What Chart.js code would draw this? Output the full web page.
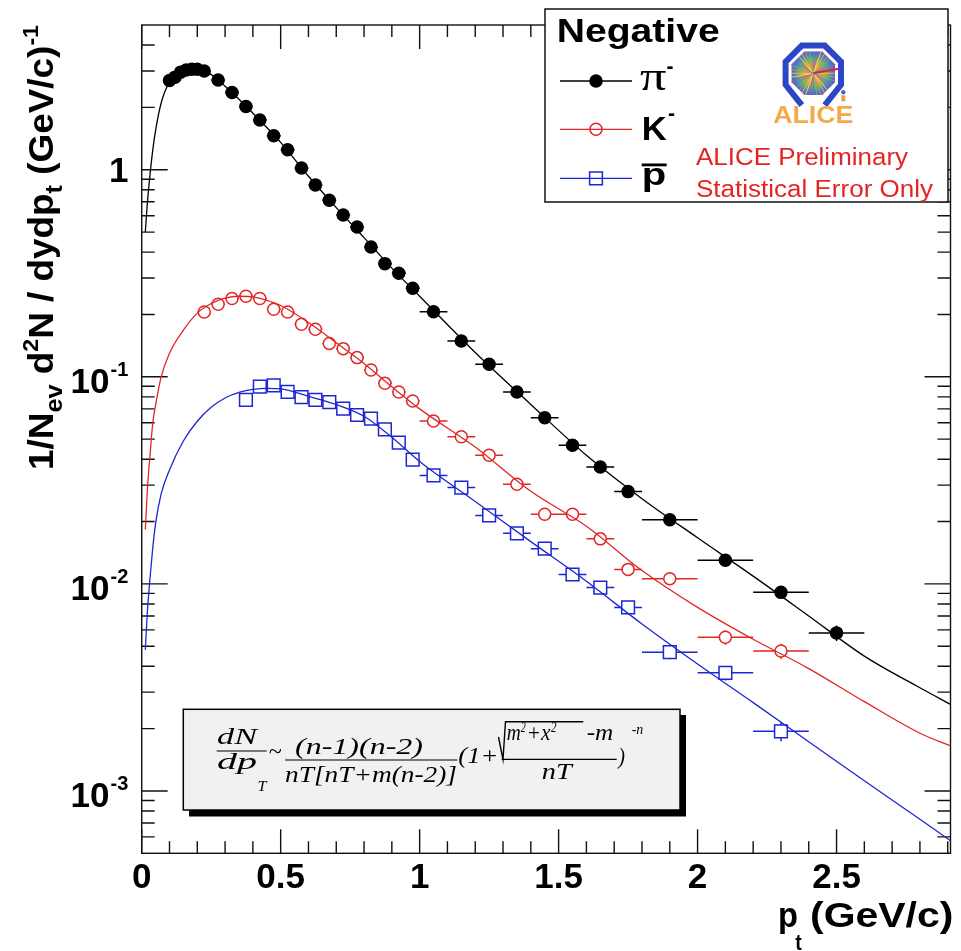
<!DOCTYPE html>
<html>
<head>
<meta charset="utf-8">
<script src="https://cdn.jsdelivr.net/npm/chart.js@4.4.1/dist/chart.umd.min.js"></script>
<style>
  html, body { margin: 0; padding: 0; background: #fff; }
  canvas { display: block; }
</style>
</head>
<body>
<canvas id="spectra" width="961" height="951"></canvas>
<script>
// pi- spectrum
const pionPt = [0.10, 0.12, 0.14, 0.16, 0.18, 0.20, 0.225,
  0.275, 0.325, 0.375, 0.425, 0.475, 0.525, 0.575, 0.625, 0.675, 0.725, 0.775, 0.825, 0.875, 0.925, 0.975,
  1.05, 1.15, 1.25, 1.35, 1.45, 1.55, 1.65, 1.75,
  1.9, 2.1, 2.3, 2.5];
const pionYield = [2.70, 2.80, 2.96, 3.03, 3.06, 3.06, 3.00,
  2.71, 2.36, 2.02, 1.74, 1.46, 1.25, 1.02, 0.845, 0.712, 0.605, 0.529, 0.424, 0.352, 0.316, 0.268,
  0.206, 0.149, 0.115, 0.0845, 0.0635, 0.0467, 0.0367, 0.0279,
  0.0204, 0.0130, 0.0091, 0.0058];
const pionPtErr = [0.01, 0.01, 0.01, 0.01, 0.01, 0.01, 0.0125,
  0.025, 0.025, 0.025, 0.025, 0.025, 0.025, 0.025, 0.025, 0.025, 0.025, 0.025, 0.025, 0.025, 0.025, 0.025,
  0.05, 0.05, 0.05, 0.05, 0.05, 0.05, 0.05, 0.05,
  0.1, 0.1, 0.1, 0.1];
const pionYieldErr = [0.03, 0.03, 0.03, 0.03, 0.03, 0.03, 0.03,
  0.025, 0.022, 0.019, 0.016, 0.014, 0.012, 0.010, 0.009, 0.008, 0.007, 0.006, 0.005, 0.0045, 0.004, 0.0036,
  0.003, 0.0024, 0.0019, 0.0015, 0.0012, 0.001, 0.0008, 0.0007,
  0.0008, 0.0007, 0.0006, 0.0005];

// K- spectrum
const kaonPt = [0.225, 0.275, 0.325, 0.375, 0.425, 0.475, 0.525, 0.575, 0.625, 0.675, 0.725, 0.775, 0.825, 0.875, 0.925, 0.975,
  1.05, 1.15, 1.25, 1.35, 1.45, 1.55, 1.65, 1.75,
  1.9, 2.1, 2.3];
const kaonYield = [0.2056, 0.224, 0.2387, 0.2448, 0.2387, 0.212, 0.2056, 0.1794, 0.1697, 0.145, 0.1368, 0.1238, 0.1078, 0.093, 0.0845, 0.0764,
  0.0612, 0.0514, 0.0418, 0.0303, 0.0217, 0.0217, 0.0165, 0.01175,
  0.0106, 0.00553, 0.00474];
const kaonPtErr = [0.025, 0.025, 0.025, 0.025, 0.025, 0.025, 0.025, 0.025, 0.025, 0.025, 0.025, 0.025, 0.025, 0.025, 0.025, 0.025,
  0.05, 0.05, 0.05, 0.05, 0.05, 0.05, 0.05, 0.05,
  0.1, 0.1, 0.1];
const kaonYieldErr = [0.006, 0.006, 0.006, 0.006, 0.006, 0.005, 0.005, 0.004, 0.004, 0.004, 0.003, 0.003, 0.003, 0.0025, 0.0022, 0.002,
  0.0018, 0.0015, 0.0013, 0.001, 0.0009, 0.0009, 0.0008, 0.0007,
  0.0007, 0.00045, 0.0004];

// anti-proton spectrum
const protonPt = [0.375, 0.425, 0.475, 0.525, 0.575, 0.625, 0.675, 0.725, 0.775, 0.825, 0.875, 0.925, 0.975,
  1.05, 1.15, 1.25, 1.35, 1.45, 1.55, 1.65, 1.75,
  1.9, 2.1, 2.3];
const protonYield = [0.0773, 0.0897, 0.0910, 0.0845, 0.0798, 0.0773, 0.0755, 0.0702, 0.0654, 0.0628, 0.0558, 0.0481, 0.0398,
  0.0334, 0.0292, 0.0214, 0.01754, 0.0148, 0.0111, 0.0096, 0.0077,
  0.00468, 0.00372, 0.00194];
const protonPtErr = [0.025, 0.025, 0.025, 0.025, 0.025, 0.025, 0.025, 0.025, 0.025, 0.025, 0.025, 0.025, 0.025,
  0.05, 0.05, 0.05, 0.05, 0.05, 0.05, 0.05, 0.05,
  0.1, 0.1, 0.1];
const protonYieldErr = [0.003, 0.003, 0.003, 0.003, 0.0025, 0.0025, 0.0025, 0.002, 0.002, 0.002, 0.0018, 0.0016, 0.0014,
  0.0012, 0.001, 0.0008, 0.0007, 0.0006, 0.0005, 0.0005, 0.0004,
  0.00035, 0.0003, 0.0002];

// fitted curves (Tsallis-type), sampled along pt
const fitPt = [0.013, 0.02, 0.03, 0.04, 0.05, 0.07, 0.1, 0.15, 0.2, 0.25, 0.3, 0.35, 0.4, 0.45, 0.5,
  0.6, 0.7, 0.8, 0.9, 1.0, 1.2, 1.4, 1.6, 1.8, 2.0, 2.2, 2.4, 2.6, 2.8, 2.91];
const pionFit = [0.50, 0.68, 0.95, 1.25, 1.55, 2.10, 2.65, 2.98, 3.05, 2.88, 2.53, 2.19, 1.875, 1.6, 1.355,
  0.93, 0.656, 0.47, 0.335, 0.245, 0.131, 0.0735, 0.0418, 0.0258, 0.0167, 0.0109, 0.0070, 0.00448, 0.00315, 0.00262];
const kaonFit = [0.0183, 0.028, 0.042, 0.060, 0.073, 0.100, 0.130, 0.168, 0.203, 0.226, 0.240, 0.245, 0.243, 0.234, 0.221,
  0.183, 0.146, 0.116, 0.0895, 0.070, 0.0458, 0.028, 0.019, 0.0116, 0.0077, 0.0054, 0.0039, 0.0027, 0.0019, 0.00165];
const protonFit = [0.0048, 0.0072, 0.0107, 0.0150, 0.0196, 0.0272, 0.0355, 0.049, 0.061, 0.0712, 0.079, 0.084, 0.087, 0.088, 0.0875,
  0.0805, 0.0735, 0.0645, 0.051, 0.039, 0.025, 0.016, 0.0103, 0.0064, 0.0041, 0.00267, 0.00173, 0.00112, 0.00073, 0.000575];

// axis labels
const yTickValues = [1, 1e-1, 1e-2, 1e-3];
const yTickExponents = ['', '-1', '-2', '-3'];

const BLACK = '#000';
const RED = 'rgb(226,38,38)';
const BLUE = 'rgb(28,38,210)';
const SANS = '"Liberation Sans", Arial, sans-serif';
const SERIF = '"Liberation Serif", "Times New Roman", serif';

function toPoints(xs, ys) {
  return xs.map((x, i) => ({ x: x, y: ys[i] }));
}

// draws text squeezed/stretched to a given width, left aligned
function fitText(ctx, text, x, y, width, font, color) {
  ctx.save();
  ctx.font = font;
  ctx.fillStyle = color || '#000';
  ctx.textAlign = 'left';
  ctx.textBaseline = 'alphabetic';
  const w = ctx.measureText(text).width;
  ctx.translate(x, y);
  ctx.scale(width / w, 1);
  ctx.fillText(text, 0, 0);
  ctx.restore();
}

function hline(ctx, x0, x1, y, lw) {
  ctx.save();
  ctx.strokeStyle = '#000';
  ctx.lineWidth = lw || 1.2;
  ctx.beginPath();
  ctx.moveTo(x0, y);
  ctx.lineTo(x1, y);
  ctx.stroke();
  ctx.restore();
}

// frame with inward ticks on all four sides
const frameTicks = {
  id: 'frameTicks',
  beforeDatasetsDraw(chart) {
    const { ctx, chartArea: a, scales: { x, y } } = chart;
    ctx.save();
    ctx.strokeStyle = '#111';
    ctx.lineWidth = 1.4;
    ctx.strokeRect(a.left, a.top, a.right - a.left, a.bottom - a.top);
    ctx.beginPath();
    for (let i = 0; i <= 29; i++) {
      const v = i / 10;
      if (v > x.max) break;
      const px = x.getPixelForValue(v);
      const len = i % 5 === 0 ? 24 : 12;
      ctx.moveTo(px, a.bottom); ctx.lineTo(px, a.bottom - len);
      ctx.moveTo(px, a.top); ctx.lineTo(px, a.top + len);
    }
    for (let e = -4; e <= 0; e++) {
      for (let m = 1; m <= 9; m++) {
        const v = m * Math.pow(10, e);
        if (v < y.min * 1.0001 || v > y.max * 0.9999) continue;
        const py = y.getPixelForValue(v);
        const len = m === 1 ? 26 : 13;
        ctx.moveTo(a.left, py); ctx.lineTo(a.left + len, py);
        ctx.moveTo(a.right, py); ctx.lineTo(a.right - len, py);
      }
    }
    ctx.stroke();
    ctx.restore();
  }
};

// horizontal bin-width bars and vertical statistical bars, kept clear of the marker
const errorBars = {
  id: 'errorBars',
  afterDatasetsDraw(chart) {
    const { ctx, chartArea: a, scales: { x, y } } = chart;
    ctx.save();
    ctx.beginPath();
    ctx.rect(a.left, a.top, a.right - a.left, a.bottom - a.top);
    ctx.clip();
    chart.data.datasets.forEach(ds => {
      if (!ds.xErr) return;
      const gap = ds.barGap;
      ctx.strokeStyle = ds.pointBorderColor;
      ctx.lineWidth = 1.5;
      ctx.beginPath();
      ds.data.forEach((p, i) => {
        const px = x.getPixelForValue(p.x);
        const py = y.getPixelForValue(p.y);
        const x0 = x.getPixelForValue(p.x - ds.xErr[i]);
        const x1 = x.getPixelForValue(p.x + ds.xErr[i]);
        const y0 = y.getPixelForValue(p.y - ds.yErr[i]);
        const y1 = y.getPixelForValue(p.y + ds.yErr[i]);
        if (px - x0 > gap) {
          ctx.moveTo(x0, py); ctx.lineTo(px - gap, py);
          ctx.moveTo(px + gap, py); ctx.lineTo(x1, py);
        }
        if (y0 - py > gap) { ctx.moveTo(px, y0); ctx.lineTo(px, py + gap); }
        if (py - y1 > gap) { ctx.moveTo(px, y1); ctx.lineTo(px, py - gap); }
      });
      ctx.stroke();
    });
    ctx.restore();
  }
};

function drawAliceLogo(ctx, cx, cy) {
  const oct = (r) => {
    const pts = [];
    for (let k = 0; k < 8; k++) {
      const t = (22.5 + 45 * k) * Math.PI / 180;
      pts.push([cx + r * Math.cos(t), cy + r * Math.sin(t)]);
    }
    return pts;
  };
  ctx.save();
  // magnet yoke, open at the bottom
  const outer = oct(30);
  ctx.strokeStyle = 'rgb(45,70,200)';
  ctx.lineWidth = 6;
  ctx.lineJoin = 'miter';
  ctx.beginPath();
  ctx.moveTo(outer[2][0], outer[2][1] + 4);
  for (let k = 3; k < 8; k++) ctx.lineTo(outer[k][0], outer[k][1]);
  ctx.lineTo(outer[0][0], outer[0][1]);
  ctx.lineTo(outer[1][0], outer[1][1] + 4);
  ctx.stroke();
  // detector body
  const inner = oct(23.5);
  ctx.beginPath();
  inner.forEach((p, k) => k ? ctx.lineTo(p[0], p[1]) : ctx.moveTo(p[0], p[1]));
  ctx.closePath();
  const g = ctx.createRadialGradient(cx, cy, 1, cx, cy, 24);
  g.addColorStop(0, '#ffd040');
  g.addColorStop(0.25, '#f59a30');
  g.addColorStop(0.55, '#70b070');
  g.addColorStop(0.8, '#4a78c8');
  g.addColorStop(1, '#8050a8');
  ctx.fillStyle = g;
  ctx.fill();
  ctx.save();
  ctx.clip();
  const rays = ['#ffcc33', '#ff8844', '#55cc66', '#3388dd', '#cc44aa', '#ffee55'];
  ctx.lineWidth = 0.8;
  for (let k = 0; k < 36; k++) {
    const t = k * Math.PI / 18;
    ctx.strokeStyle = rays[k % rays.length];
    ctx.beginPath();
    ctx.moveTo(cx, cy);
    ctx.lineTo(cx + 26 * Math.cos(t), cy + 26 * Math.sin(t));
    ctx.stroke();
  }
  ctx.restore();
  ctx.strokeStyle = '#c8284a';
  ctx.lineWidth = 2;
  ctx.stroke();
  // little figure at the side
  ctx.fillStyle = '#3a6ad0';
  ctx.beginPath(); ctx.arc(cx + 30, cy + 19, 2.2, 0, Math.PI * 2); ctx.fill();
  ctx.fillStyle = '#f0a040';
  ctx.fillRect(cx + 28, cy + 22, 4, 6);
  ctx.restore();
  fitText(ctx, 'ALICE', cx - 40, cy + 50, 80, 'bold 24px ' + SANS, '#f4aa4c');
}

function drawLegend(ctx, chart) {
  ctx.save();
  ctx.fillStyle = '#fff';
  ctx.fillRect(545, 9, 403, 193);
  ctx.strokeStyle = '#111';
  ctx.lineWidth = 1.5;
  ctx.strokeRect(545, 9, 403, 193);
  ctx.restore();
  fitText(ctx, 'Negative', 556.7, 41.7, 163, 'bold 33px ' + SANS);

  const rowY = [81, 129.3, 178.3];
  chart.data.datasets.filter(ds => ds.xErr).forEach((ds, i) => {
    ctx.save();
    ctx.strokeStyle = ds.pointBorderColor;
    ctx.lineWidth = 1.3;
    ctx.beginPath();
    ctx.moveTo(560, rowY[i]);
    ctx.lineTo(632, rowY[i]);
    ctx.stroke();
    ctx.fillStyle = ds.pointBackgroundColor;
    ctx.lineWidth = ds.pointBorderWidth;
    Chart.helpers.drawPoint(ctx, { pointStyle: ds.pointStyle, radius: ds.pointRadius, borderWidth: ds.pointBorderWidth, rotation: 0 }, 596, rowY[i]);
    ctx.restore();
  });
  fitText(ctx, 'π', 640, 90, 26.5, '40px ' + SERIF);
  fitText(ctx, '-', 666.5, 73, 7, 'bold 22px ' + SANS);
  fitText(ctx, 'K', 641.7, 140, 25, 'bold 33px ' + SANS);
  fitText(ctx, '-', 668, 120, 7, 'bold 22px ' + SANS);
  fitText(ctx, 'p', 641.7, 185, 24.5, 'bold 32px ' + SANS);
  ctx.fillStyle = '#000';
  ctx.fillRect(641.7, 163.5, 25, 2.8);

  drawAliceLogo(ctx, 813.3, 73.3);
  fitText(ctx, 'ALICE Preliminary', 696, 165, 212, '23px ' + SANS, 'rgb(228,36,36)');
  fitText(ctx, 'Statistical Error Only', 696, 196.7, 237, '23px ' + SANS, 'rgb(228,36,36)');
}

function drawFormula(ctx) {
  ctx.save();
  ctx.fillStyle = '#000';
  ctx.fillRect(189, 715, 497, 101.5);
  ctx.fillStyle = '#f1f1f1';
  ctx.fillRect(183.3, 709.3, 496.7, 100.7);
  ctx.strokeStyle = '#000';
  ctx.lineWidth = 1.5;
  ctx.strokeRect(183.3, 709.3, 496.7, 100.7);
  ctx.restore();
  const f = 'italic 23px ' + SERIF;
  const fs = 'italic 15px ' + SERIF;
  fitText(ctx, 'dN', 217, 744, 40, f);
  hline(ctx, 216.7, 266.7, 751);
  fitText(ctx, 'dp', 217, 769, 40, f);
  fitText(ctx, 'T', 257.5, 791, 9, fs);
  fitText(ctx, '~', 268.5, 759, 13, f);
  fitText(ctx, '(n-1)(n-2)', 295, 754, 128, f);
  hline(ctx, 285, 457.3, 760);
  fitText(ctx, 'nT[nT+m(n-2)]', 285, 782, 172, f);
  fitText(ctx, '(1+', 458.3, 763, 40, f);
  ctx.save();
  ctx.strokeStyle = '#000';
  ctx.lineWidth = 1.4;
  ctx.beginPath();
  ctx.moveTo(498.5, 737);
  ctx.lineTo(503, 759.5);
  ctx.lineTo(505.5, 721.7);
  ctx.lineTo(583.3, 721.7);
  ctx.stroke();
  ctx.restore();
  fitText(ctx, 'm', 506.7, 740, 14, f);
  fitText(ctx, '2', 520.8, 732, 5, fs);
  fitText(ctx, '+x', 526.5, 740, 24, f);
  fitText(ctx, '2', 551, 732, 5.5, fs);
  fitText(ctx, '-m', 586.7, 740, 26.6, f);
  hline(ctx, 501.7, 616.7, 759.3);
  fitText(ctx, 'nT', 541.7, 779, 30, f);
  fitText(ctx, ')', 618.3, 764, 6.7, f);
  fitText(ctx, '-n', 631.7, 734, 11.6, fs);
}

function drawAxisText(ctx, chart) {
  const y = chart.scales.y;
  const big = 'bold 35px ' + SANS;
  const sup = 'bold 20px ' + SANS;
  ctx.save();
  ctx.fillStyle = '#000';
  yTickValues.forEach((v, i) => {
    const py = y.getPixelForValue(v);
    if (!yTickExponents[i]) {
      ctx.font = big;
      ctx.textAlign = 'right';
      ctx.fillText('1', 128.5, py + 12.5);
    } else {
      ctx.font = big;
      ctx.textAlign = 'right';
      ctx.fillText('10', 109.5, py + 16.5);
      ctx.font = sup;
      ctx.textAlign = 'left';
      ctx.fillText(yTickExponents[i], 110.5, py - 1);
    }
  });
  ctx.restore();

  // x title
  fitText(ctx, 'p', 778, 927, 20, big);
  fitText(ctx, 't', 795.3, 950, 6.5, 'bold 22px ' + SANS);
  fitText(ctx, '(GeV/c)', 810, 927, 143.3, big);

  // y title, rotated, reading upwards
  const segs = [
    ['1/N', big, 0], ['ev', 'bold 24px ' + SANS, 9], [' d', big, 0], ['2', 'bold 22px ' + SANS, -15],
    ['N / dydp', big, 0], ['t', 'bold 24px ' + SANS, 9], [' (GeV/c)', big, 0], ['-1', 'bold 22px ' + SANS, -15]
  ];
  ctx.save();
  let total = 0;
  segs.forEach(s => { ctx.font = s[1]; total += ctx.measureText(s[0]).width; });
  const k = 445 / total;
  ctx.translate(53, 470);
  ctx.rotate(-Math.PI / 2);
  ctx.scale(k, 1);
  ctx.fillStyle = '#000';
  ctx.textBaseline = 'alphabetic';
  let pos = 0;
  segs.forEach(s => {
    ctx.font = s[1];
    ctx.fillText(s[0], pos, s[2]);
    pos += ctx.measureText(s[0]).width;
  });
  ctx.restore();
}

const decorations = {
  id: 'decorations',
  afterDraw(chart) {
    const ctx = chart.ctx;
    drawAxisText(ctx, chart);
    drawFormula(ctx);
    drawLegend(ctx, chart);
  }
};

const markerSet = (label, xs, ys, xe, ye, style, radius, fillColor, color, gap) => ({
  type: 'scatter',
  label: label,
  data: toPoints(xs, ys),
  xErr: xe,
  yErr: ye,
  barGap: gap,
  pointStyle: style,
  pointRadius: radius,
  pointHoverRadius: radius,
  pointBackgroundColor: fillColor,
  pointBorderColor: color,
  pointBorderWidth: 1.5,
  showLine: false,
  order: 0
});

const fitSet = (label, ys, color) => ({
  type: 'line',
  label: label,
  data: toPoints(fitPt, ys),
  borderColor: color,
  borderWidth: 1.3,
  pointRadius: 0,
  fill: false,
  cubicInterpolationMode: 'monotone',
  order: 1
});

new Chart(document.getElementById('spectra'), {
  type: 'scatter',
  data: {
    datasets: [
      markerSet('π-', pionPt, pionYield, pionPtErr, pionYieldErr, 'circle', 6, BLACK, BLACK, 6),
      markerSet('K-', kaonPt, kaonYield, kaonPtErr, kaonYieldErr, 'circle', 6, 'rgba(0,0,0,0)', RED, 6),
      markerSet('anti-p', protonPt, protonYield, protonPtErr, protonYieldErr, 'rect', 9, 'rgba(0,0,0,0)', BLUE, 6.5),
      fitSet('π- fit', pionFit, BLACK),
      fitSet('K- fit', kaonFit, RED),
      fitSet('anti-p fit', protonFit, BLUE)
    ]
  },
  options: {
    responsive: false,
    animation: false,
    devicePixelRatio: 1,
    layout: { padding: { top: 25, right: 4.3, left: 0, bottom: 0 } },
    plugins: {
      legend: { display: false },
      tooltip: { enabled: false }
    },
    scales: {
      x: {
        type: 'linear',
        min: 0,
        max: 2.91,
        grid: { display: false, drawTicks: false },
        border: { display: false },
        ticks: {
          stepSize: 0.5,
          includeBounds: false,
          autoSkip: false,
          maxRotation: 0,
          padding: 4,
          color: '#000',
          font: { family: SANS, weight: 'bold', size: 35 },
          callback: (value) => String(Number(value.toFixed(2)))
        },
        afterFit(scale) { scale.height = 97.7; }
      },
      y: {
        type: 'logarithmic',
        min: 5e-4,
        max: 5,
        grid: { display: false, drawTicks: false },
        border: { display: false },
        ticks: { display: false },
        afterFit(scale) { scale.width = 141.7; }
      }
    }
  },
  plugins: [frameTicks, errorBars, decorations]
});
</script>
</body>
</html>
